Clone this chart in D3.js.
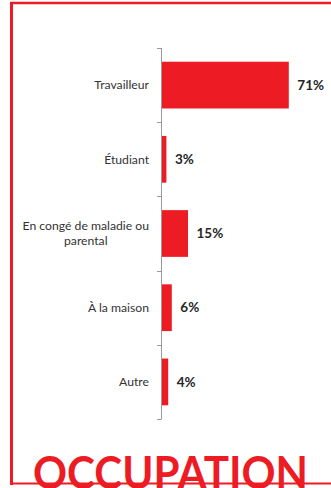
<!DOCTYPE html>
<html>
<head>
<meta charset="utf-8">
<script src="https://cdn.jsdelivr.net/npm/d3@7"></script>
<style>
  html, body { margin: 0; padding: 0; background: #fff; }
  svg { display: block; }
</style>
</head>
<body>
<svg id="chart" width="331" height="488"></svg>
<script>
// Occupation breakdown (percent of respondents)
const categories = ["Travailleur", "Étudiant", "En congé de maladie ou parental", "À la maison", "Autre"];
const values = [71, 3, 15, 6, 4];
const valueLabels = values.map(v => v + "%");
const title = "OCCUPATION";

const W = 331, H = 488;
const red = "#ED1C24";
const svg = d3.select("#chart");

const x = d3.scaleLinear().domain([0, 80]).range([161, 305]);
const y = d3.scaleBand()
  .domain(categories)
  .range([48, 419])
  .paddingInner(0.37)
  .paddingOuter(0.185);

// frame around the panel
const frame = svg.append("g").attr("fill", "none").attr("stroke", red);
frame.append("line").attr("x1", 10).attr("x2", W).attr("y1", 3).attr("y2", 3).attr("stroke-width", 2.5);
frame.append("line").attr("x1", 11.5).attr("x2", 11.5).attr("y1", 2).attr("y2", 485).attr("stroke-width", 3);

// bars
svg.append("g").selectAll("rect")
  .data(categories)
  .join("rect")
  .attr("x", x(0))
  .attr("y", d => y(d))
  .attr("width", (d, i) => x(values[i]) - x(0))
  .attr("height", y.bandwidth())
  .attr("fill", red);

// category axis: vertical line with ticks at band boundaries
const step = y.step();
const r0 = y.range()[0];
const boundaries = d3.range(categories.length + 1).map(i => r0 + i * step);
const axis = svg.append("g").attr("stroke", "#9a9a9a").attr("stroke-width", 1);
axis.append("line")
  .attr("x1", x(0) + 0.5).attr("x2", x(0) + 0.5)
  .attr("y1", boundaries[0]).attr("y2", boundaries[boundaries.length - 1]);
axis.selectAll("line.tick")
  .data(boundaries)
  .join("line")
  .attr("class", "tick")
  .attr("x1", x(0) - 4).attr("x2", x(0) + 0.5)
  .attr("y1", d => Math.round(d) + 0.5).attr("y2", d => Math.round(d) + 0.5);

// category labels, wrapped and centred within a right-aligned block
const labelRight = 149;
const maxLabelWidth = 130;
const lineHeight = 15;
const labels = svg.append("g")
  .attr("font-family", "Lato, 'Open Sans', sans-serif")
  .attr("font-size", 12.2)
  .attr("fill", "#333333");

categories.forEach(cat => {
  const t = labels.append("text").attr("text-anchor", "middle");
  const words = cat.split(" ");
  const lines = [];
  let current = [];
  const probe = labels.append("text");
  words.forEach(w => {
    const trial = current.concat([w]).join(" ");
    probe.text(trial);
    if (probe.node().getComputedTextLength() > maxLabelWidth && current.length) {
      lines.push(current.join(" "));
      current = [w];
    } else {
      current.push(w);
    }
  });
  lines.push(current.join(" "));
  const blockWidth = d3.max(lines, l => { probe.text(l); return probe.node().getComputedTextLength(); });
  probe.remove();
  const cx = labelRight - blockWidth / 2;
  const cy = y(cat) + y.bandwidth() / 2;
  lines.forEach((l, i) => {
    t.append("tspan")
      .attr("x", cx)
      .attr("y", cy + (i - (lines.length - 1) / 2) * lineHeight)
      .attr("dy", "0.35em")
      .text(l);
  });
});

// value labels
svg.append("g")
  .attr("font-family", "Lato, 'Open Sans', sans-serif")
  .attr("font-size", 13.5)
  .attr("font-weight", "bold")
  .attr("fill", "#262626")
  .selectAll("text")
  .data(categories)
  .join("text")
  .attr("x", (d, i) => x(values[i]) + 8.5)
  .attr("y", d => y(d) + y.bandwidth() / 2)
  .attr("dy", "0.35em")
  .text((d, i) => valueLabels[i]);

// title
svg.append("text")
  .attr("x", 33)
  .attr("y", 489)
  .attr("font-family", "Lato, 'Open Sans', sans-serif")
  .attr("font-weight", "bold")
  .attr("font-size", 45)
  .attr("fill", red)
  .attr("textLength", 275)
  .attr("lengthAdjust", "spacingAndGlyphs")
  .text(title);

frame.append("line").attr("x1", 10).attr("x2", W).attr("y1", 483.5).attr("y2", 483.5).attr("stroke-width", 2);
</script>
</body>
</html>
